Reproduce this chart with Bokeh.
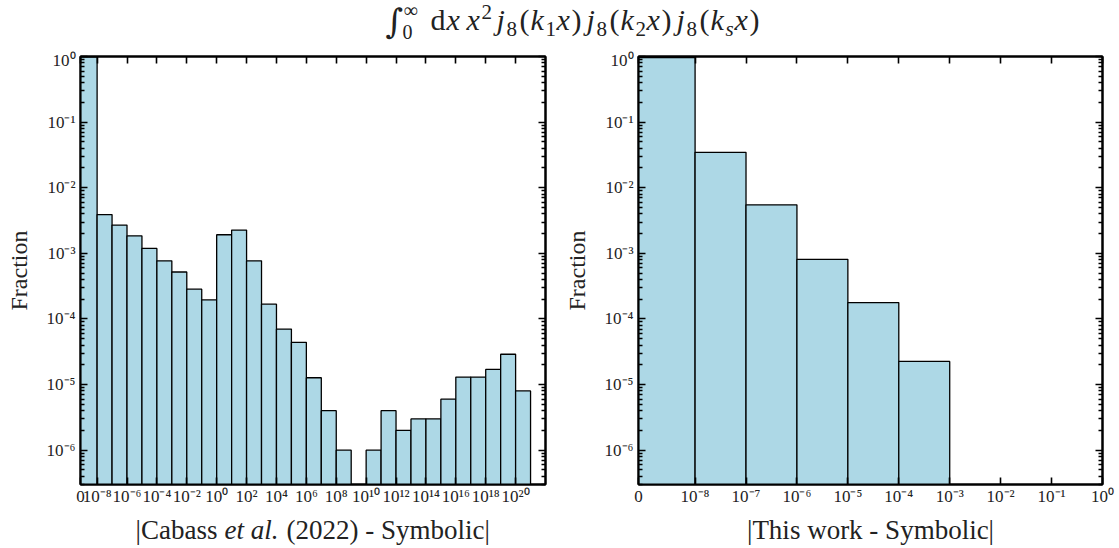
import math
from bokeh.plotting import figure
from bokeh.layouts import column, row
from bokeh.models import Range1d, FixedTicker, CustomJSTickFormatter, LinearAxis, LogAxis, ColumnDataSource
from bokeh.core.properties import value
from bokeh.embed import file_html
from bokeh.resources import INLINE

FONT = "Liberation Serif"

# ---------------- data ----------------
# left panel: bins [0, 1e-8], then one bin per decade 1e-8 ... 1e21
cabass_edge_exp = list(range(-8, 22))
cabass_fraction = [0.982, 3.9e-3, 2.7e-3, 1.85e-3, 1.19e-3, 7.7e-4, 5.2e-4, 2.84e-4,
                   1.95e-4, 1.92e-3, 2.26e-3, 7.7e-4, 1.68e-4, 7.0e-5, 4.4e-5, 1.27e-5,
                   4.0e-6, 1.0e-6, 0.0, 1.0e-6, 4.0e-6, 2.0e-6, 3.0e-6, 3.0e-6, 6.0e-6,
                   1.3e-5, 1.3e-5, 1.7e-5, 2.9e-5, 8.0e-6]
cabass_tick_exp = list(range(-8, 21, 2))
cabass_xmax = 1e22

# right panel: bins [0, 1e-8], then one bin per decade 1e-8 ... 1e0
thiswork_edge_exp = list(range(-8, 1))
thiswork_fraction = [0.9589, 0.0346, 5.48e-3, 8.1e-4, 1.78e-4, 2.25e-5, 0.0, 0.0, 0.0]
thiswork_tick_exp = list(range(-8, 1))
thiswork_xmax = 1.0

y_tick_exp = list(range(-6, 1))
y_min, y_max = 3e-7, 1.0

# ---------------- symlog scale (linthresh 1e-8, linscale 1) ----------------
LINTHRESH = 1e-8
LINSCALE_ADJ = 1.0 / (1.0 - 1.0 / 10.0)


def symlog(v):
    if v <= LINTHRESH:
        return v / LINTHRESH * LINSCALE_ADJ
    return LINSCALE_ADJ + math.log10(v / LINTHRESH)


SUP = str.maketrans("0123456789-", "⁰¹²³⁴⁵⁶⁷⁸⁹⁻")


def pow_label(e):
    return "10" + str(e).translate(SUP)


NEAREST_JS = """
let best = 0, bd = Infinity;
for (let i = 0; i < pos.length; i++) {
  const dd = lin ? Math.abs(pos[i] - tick) : Math.abs(Math.log(pos[i]) - Math.log(Math.abs(tick) + 1e-300));
  if (dd < bd) { bd = dd; best = i; }
}
return labs[best];
"""


def style_axis(ax, hidden=False):
    ax.axis_line_color = "black"
    ax.axis_line_width = 2
    ax.major_tick_in = 7
    ax.major_tick_out = 0
    ax.minor_tick_in = 4
    ax.minor_tick_out = 0
    ax.major_tick_line_width = 1.6
    ax.minor_tick_line_width = 1.3
    ax.major_tick_line_color = "black"
    ax.minor_tick_line_color = "black"
    ax.major_label_text_font = FONT
    ax.major_label_text_font_size = "17px"
    ax.major_label_text_color = "#222222"
    ax.axis_label_text_font = FONT
    ax.axis_label_text_font_style = "normal"
    ax.axis_label_text_font_size = "24px"
    ax.axis_label_text_color = "#222222"
    if hidden:
        ax.major_label_text_font_size = "2px"
        ax.major_label_text_alpha = 0.0
        ax.major_label_standoff = 0


def make_panel(edge_exp, fractions, tick_exp, xmax, width, bl, br):
    edges = [0.0] + [10.0 ** k for k in edge_exp]
    pos = [symlog(v) for v in edges]
    keep = [i for i, f in enumerate(fractions) if f > 0]

    p = figure(width=width, height=458,
               x_range=Range1d(0, symlog(xmax)), y_range=Range1d(y_min, y_max),
               y_axis_type="log", output_backend="svg", toolbar_location=None,
               min_border_left=bl, min_border_right=br, min_border_top=6, min_border_bottom=24)
    p.grid.visible = False
    p.outline_line_color = "black"
    p.outline_line_width = 2

    p.quad(left=[pos[i] for i in keep], right=[pos[i + 1] for i in keep],
           bottom=1e-9, top=[fractions[i] for i in keep],
           fill_color="#add8e6", line_color="black", line_width=1.3)

    xt = [0.0] + [symlog(10.0 ** k) for k in tick_exp]
    xl = ["0"] + [pow_label(k) for k in tick_exp]
    xfmt = CustomJSTickFormatter(args=dict(pos=xt, labs=xl, lin=True), code=NEAREST_JS)
    yt = [10.0 ** e for e in y_tick_exp]
    yl = [pow_label(e) for e in y_tick_exp]
    yminor = [m * 10.0 ** e for e in range(-7, 0) for m in range(2, 10)]
    yfmt = CustomJSTickFormatter(args=dict(pos=yt, labs=yl, lin=False), code=NEAREST_JS)

    xa = p.xaxis[0]
    xa.ticker = FixedTicker(ticks=xt, minor_ticks=[])
    xa.formatter = xfmt
    style_axis(xa)
    xa.major_label_standoff = 2

    ya = p.yaxis[0]
    ya.ticker = FixedTicker(ticks=yt, minor_ticks=yminor)
    ya.formatter = yfmt
    ya.axis_label = "Fraction"
    style_axis(ya)
    ya.major_label_standoff = 5
    ya.axis_label_standoff = 12

    top = LinearAxis(ticker=FixedTicker(ticks=xt, minor_ticks=[]))
    style_axis(top, hidden=True)
    p.add_layout(top, "above")
    right = LogAxis(ticker=FixedTicker(ticks=yt, minor_ticks=yminor))
    style_axis(right, hidden=True)
    p.add_layout(right, "right")
    return p


def text_strip(height):
    f = figure(width=1119, height=height, x_range=Range1d(0, 1119), y_range=Range1d(0, height),
               output_backend="svg", toolbar_location=None, min_border=0)
    f.axis.visible = False
    f.grid.visible = False
    f.outline_line_color = None
    return f


BASE_SHIFT = 0.32   # alphabetic-baseline correction (fraction of font size)

p1 = make_panel(cabass_edge_exp, cabass_fraction, cabass_tick_exp, cabass_xmax, 560, 80, 15)
p2 = make_panel(thiswork_edge_exp, thiswork_fraction, thiswork_tick_exp, thiswork_xmax, 559, 77, 17)

# ---------------- title strip (formula laid out glyph by glyph) ----------------
TH = 50
t = text_strip(TH)
S, s = 30, 21
# (text, left x, baseline from top, size, style)
title_parts = [
    ("∞", 403, 16, 20, "normal"),
    ("0", 402, 38, 20, "normal"),
    ("d", 430, 29, S, "normal"), ("x", 446, 29, S, "italic"),
    ("x", 466, 29, S, "italic"), ("2", 481, 18, s, "normal"),
    ("j", 496, 29, S, "italic"), ("8", 506, 35, s, "normal"),
    ("(", 519, 29, S, "normal"), ("k", 530, 29, S, "italic"), ("1", 545, 35, s, "normal"),
    ("x", 556, 29, S, "italic"), (")", 571, 29, S, "normal"),
    ("j", 586, 29, S, "italic"), ("8", 596, 35, s, "normal"),
    ("(", 609, 29, S, "normal"), ("k", 620, 29, S, "italic"), ("2", 635, 35, s, "normal"),
    ("x", 646, 29, S, "italic"), (")", 661, 29, S, "normal"),
    ("j", 676, 29, S, "italic"), ("8", 686, 35, s, "normal"),
    ("(", 699, 29, S, "normal"), ("k", 710, 29, S, "italic"), ("s", 725, 35, s, "italic"),
    ("x", 734, 29, S, "italic"), (")", 749, 29, S, "normal"),
]
tsrc = ColumnDataSource(dict(
    x=[p[1] for p in title_parts],
    y=[TH - (p[2] - BASE_SHIFT * p[3]) for p in title_parts],
    text=[p[0] for p in title_parts], size=[f"{p[3]}px" for p in title_parts],
    style=[p[4] for p in title_parts]))
t.text(x="x", y="y", text="text", source=tsrc, text_font=value(FONT), text_font_size="size",
       text_font_style="style", text_color="#222222", text_baseline="alphabetic", text_align="left")
t.text(x=[385], y=[TH - 20], text=["∫"], text_font=value("DejaVu Serif"), text_font_size="34px",
       text_color="#222222", text_baseline="middle", text_align="left")

# ---------------- x-axis label strip ----------------
BH = 40
XS = 27
b = text_strip(BH)
xl_parts = [
    ("|Cabass", 217, "right", "normal"),
    ("et al.", 224, "left", "italic"),
    ("(2022) - Symbolic|", 286, "left", "normal"),
    ("|This work - Symbolic|", 870, "center", "normal"),
]
bsrc = ColumnDataSource(dict(
    x=[p[1] for p in xl_parts], y=[BH - (30 - BASE_SHIFT * XS)] * len(xl_parts),
    text=[p[0] for p in xl_parts], align=[p[2] for p in xl_parts], style=[p[3] for p in xl_parts]))
b.text(x="x", y="y", text="text", source=bsrc, text_font=value(FONT), text_font_size=f"{XS}px",
       text_font_style="style", text_align="align", text_color="#222222", text_baseline="alphabetic")

layout = column(t, row(p1, p2), b)
open("out.html", "w").write(file_html(layout, INLINE))
